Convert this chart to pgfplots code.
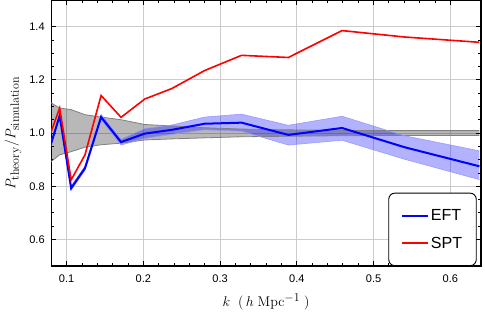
\RequirePackage{fix-cm}
\documentclass[border=0pt]{standalone}
\usepackage[no-math]{fontspec}
\setmainfont{Liberation Sans}
\usepackage{pgfplots}
\usepackage{pgfplotstable}
\pgfplotsset{compat=1.18}
\usepgfplotslibrary{fillbetween}
\DeclareMathSizes{14}{14}{12}{9.5}

% k, SPT, EFT, EFT band, simulation band
\pgfplotstableread{
k      spt    eft    elo    ehi    slo    shi
0.0773 0.984  0.937  0.929  0.945  0.887  1.118
0.091  1.094  1.065  1.057  1.073  0.918  1.094
0.106  0.824  0.793  0.785  0.801  0.930  1.088
0.124  0.918  0.868  0.860  0.876  0.947  1.069
0.145  1.141  1.060  1.050  1.070  0.956  1.060
0.171  1.059  0.966  0.955  0.977  0.962  1.050
0.202  1.128  0.998  0.980  1.017  0.974  1.032
0.237  1.167  1.012  0.995  1.030  0.978  1.027
0.280  1.235  1.035  1.012  1.060  0.982  1.020
0.328  1.292  1.039  1.007  1.071  0.986  1.015
0.389  1.284  0.993  0.955  1.029  0.988  1.012
0.459  1.385  1.019  0.973  1.063  0.990  1.010
0.540  1.361  0.947  0.902  0.990  0.991  1.009
0.638  1.341  0.875  0.825  0.933  0.991  1.009
}\ratios

\begin{document}
\begin{tikzpicture}
  \begin{axis}[
    width=428pt, height=265pt,
    scale only axis,
    xmin=0.08, xmax=0.64,
    ymin=0.5, ymax=1.5,
    xtick={0.1,0.2,0.3,0.4,0.5,0.6},
    ytick={0.6,0.8,1.0,1.2,1.4},
    minor x tick num=4,
    minor y tick num=3,
    tick align=inside,
    major tick length=5pt,
    minor tick length=3pt,
    every tick/.style={black, line width=0.8pt},
    axis line style={black, line width=1.2pt},
    grid=major,
    major grid style={black!20, line width=1pt},
    ticklabel style={font=\fontsize{11}{13}\selectfont},
    /pgf/number format/assume math mode=true,
    xticklabel style={yshift=-5pt, /pgf/number format/.cd, fixed, fixed zerofill, precision=1},
    yticklabel style={xshift=-3pt, /pgf/number format/.cd, fixed, fixed zerofill, precision=1},
    xlabel={$k\ \ \bigl(\,h\ \mathrm{Mpc}^{-1}\;\bigr)$},
    ylabel={$P_{\mathrm{theory}}/P_{\mathrm{simulation}}$},
    every axis x label/.style={at={(axis description cs:0.5,0)}, yshift=-36pt,
      anchor=center, font=\fontsize{14}{16}\selectfont},
    every axis y label/.style={at={(axis description cs:0,0.5)}, xshift=-38pt,
      rotate=90, anchor=center, font=\fontsize{14}{16}\selectfont},
    legend style={at={(0.99,0.0)}, anchor=south east, draw=black,
      line width=0.9pt, rounded corners=6pt,
      font=\fontsize{16}{19}\selectfont,
      inner xsep=12pt, inner ysep=14pt, row sep=11pt},
    legend cell align=left,
    legend image code/.code={\draw[#1] (0pt,0pt) -- (26pt,0pt);},
  ]
    % simulation band
    \addplot[name path=slo, draw=black!50, line width=0.8pt, forget plot] table[x=k, y=slo] {\ratios};
    \addplot[name path=shi, draw=black!50, line width=0.8pt, forget plot] table[x=k, y=shi] {\ratios};
    \addplot[black, fill opacity=0.28, draw=none, forget plot] fill between[of=slo and shi];
    % EFT band
    \addplot[name path=elo, draw=blue!40, line width=0.6pt, forget plot] table[x=k, y=elo] {\ratios};
    \addplot[name path=ehi, draw=blue!40, line width=0.6pt, forget plot] table[x=k, y=ehi] {\ratios};
    \addplot[blue, fill opacity=0.3, draw=none, forget plot] fill between[of=elo and ehi];
    % curves
    \addplot[blue, line width=2pt] table[x=k, y=eft] {\ratios};
    \addlegendentry{EFT}
    \addplot[red, line width=1.6pt] table[x=k, y=spt] {\ratios};
    \addlegendentry{SPT}
  \end{axis}
  \pgfresetboundingbox
  \path ([xshift=-51pt, yshift=-55pt]current axis.south west)
    rectangle ([xshift=4pt]current axis.north east);
\end{tikzpicture}
\end{document}
